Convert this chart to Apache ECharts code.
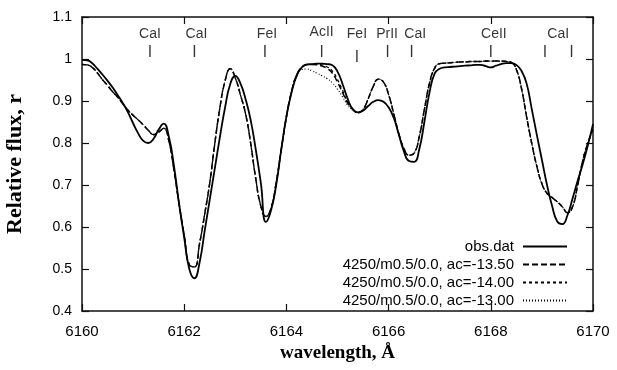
<!DOCTYPE html>
<html><head><meta charset="utf-8">
<script src="https://cdn.jsdelivr.net/npm/echarts@6.0.0/dist/echarts.min.js"></script>
<style>html,body{margin:0;padding:0;background:#fff}#c{width:617px;height:370px}</style>
</head><body><div id="c"></div>
<script>
// wavelength grid (Å)
const wavelength = [
6160.0,6160.1,6160.2,6160.3,6160.4,6160.5,6160.6,6160.7,6160.8,6160.9,
6161.0,6161.1,6161.2,6161.3,6161.4,6161.5,6161.6,6161.7,6161.8,6161.9,
6162.0,6162.1,6162.2,6162.3,6162.4,6162.5,6162.6,6162.7,6162.8,6162.9,
6163.0,6163.1,6163.2,6163.3,6163.4,6163.5,6163.6,6163.7,6163.8,6163.9,
6164.0,6164.1,6164.2,6164.3,6164.4,6164.5,6164.6,6164.7,6164.8,6164.9,
6165.0,6165.1,6165.2,6165.3,6165.4,6165.5,6165.6,6165.7,6165.8,6165.9,
6166.0,6166.1,6166.2,6166.3,6166.4,6166.5,6166.6,6166.7,6166.8,6166.9,
6167.0,6167.1,6167.2,6167.3,6167.4,6167.5,6167.6,6167.7,6167.8,6167.9,
6168.0,6168.1,6168.2,6168.3,6168.4,6168.5,6168.6,6168.7,6168.8,6168.9,
6169.0,6169.1,6169.2,6169.3,6169.4,6169.5,6169.6,6169.7,6169.8,6169.9,
6170.0];

// observed spectrum (obs.dat)
const obsFlux = [
0.998,0.997,0.990,0.977,0.963,0.948,0.932,0.914,0.895,0.873,
0.847,0.823,0.805,0.800,0.810,0.832,0.846,0.815,0.745,0.655,
0.575,0.500,0.478,0.515,0.590,0.665,0.740,0.815,0.885,0.940,
0.960,0.942,0.905,0.855,0.785,0.705,0.612,0.640,0.700,0.785,
0.863,0.920,0.960,0.980,0.987,0.988,0.989,0.989,0.988,0.985,
0.970,0.940,0.905,0.880,0.873,0.877,0.888,0.898,0.902,0.898,
0.885,0.860,0.820,0.780,0.757,0.755,0.785,0.850,0.920,0.965,
0.977,0.980,0.981,0.982,0.983,0.984,0.985,0.986,0.986,0.983,
0.980,0.984,0.988,0.990,0.990,0.986,0.972,0.942,0.882,0.820,
0.760,0.700,0.650,0.613,0.607,0.628,0.668,0.710,0.750,0.795,
0.845];

// synthetic spectrum 4250/m0.5/0.0, ac=-13.50
const modelAc135 = [
0.987,0.986,0.980,0.967,0.951,0.937,0.922,0.909,0.893,0.878,
0.866,0.855,0.843,0.830,0.820,0.826,0.835,0.805,0.735,0.655,
0.580,0.510,0.505,0.560,0.630,0.705,0.800,0.885,0.948,0.977,
0.955,0.915,0.870,0.800,0.715,0.650,0.625,0.645,0.705,0.785,
0.862,0.922,0.962,0.980,0.986,0.987,0.986,0.983,0.977,0.966,
0.945,0.920,0.895,0.880,0.872,0.880,0.905,0.935,0.952,0.945,
0.915,0.870,0.822,0.787,0.771,0.776,0.815,0.880,0.942,0.978,
0.989,0.990,0.991,0.992,0.993,0.993,0.994,0.994,0.994,0.995,
0.995,0.995,0.995,0.994,0.992,0.975,0.930,0.863,0.800,0.745,
0.703,0.680,0.670,0.660,0.648,0.634,0.648,0.700,0.758,0.800,
0.832];

// synthetic spectrum 4250/m0.5/0.0, ac=-14.00
const modelAc140 = [
0.987,0.986,0.980,0.967,0.951,0.937,0.922,0.909,0.893,0.878,
0.866,0.855,0.843,0.830,0.820,0.826,0.835,0.805,0.735,0.655,
0.580,0.510,0.505,0.560,0.630,0.705,0.800,0.885,0.948,0.977,
0.955,0.915,0.870,0.800,0.715,0.650,0.625,0.645,0.705,0.785,
0.862,0.922,0.962,0.980,0.986,0.987,0.988,0.986,0.981,0.971,
0.951,0.925,0.898,0.881,0.872,0.880,0.905,0.935,0.952,0.945,
0.915,0.870,0.822,0.787,0.771,0.776,0.815,0.880,0.942,0.978,
0.989,0.990,0.991,0.992,0.993,0.993,0.994,0.994,0.994,0.995,
0.995,0.995,0.995,0.994,0.992,0.975,0.930,0.863,0.800,0.745,
0.703,0.680,0.670,0.660,0.648,0.634,0.648,0.700,0.758,0.800,
0.832];

// synthetic spectrum 4250/m0.5/0.0, ac=-13.00
const modelAc130 = [
0.987,0.986,0.980,0.967,0.951,0.937,0.922,0.909,0.893,0.878,
0.866,0.855,0.843,0.830,0.820,0.826,0.835,0.805,0.735,0.655,
0.580,0.510,0.505,0.560,0.630,0.705,0.800,0.885,0.948,0.977,
0.955,0.915,0.870,0.800,0.715,0.650,0.625,0.645,0.705,0.785,
0.862,0.922,0.958,0.975,0.976,0.972,0.966,0.960,0.953,0.943,
0.928,0.910,0.890,0.878,0.872,0.880,0.905,0.935,0.952,0.945,
0.915,0.870,0.822,0.787,0.771,0.776,0.815,0.880,0.942,0.978,
0.989,0.990,0.991,0.992,0.993,0.993,0.994,0.994,0.994,0.995,
0.995,0.995,0.995,0.994,0.992,0.975,0.930,0.863,0.800,0.745,
0.703,0.680,0.670,0.660,0.648,0.634,0.648,0.700,0.758,0.800,
0.832];

const seriesNames = ['obs.dat','4250/m0.5/0.0, ac=-13.50','4250/m0.5/0.0, ac=-14.00','4250/m0.5/0.0, ac=-13.00'];

// line identifications
const lineMarkWl = [6161.33, 6162.20, 6163.58, 6164.69, 6165.38, 6165.98, 6166.45, 6168.00, 6169.06, 6169.58];
const lineLabelWl = [6161.33, 6162.24, 6163.62, 6164.69, 6165.38, 6165.97, 6166.52, 6168.06, 6169.32];
const lineLabelText = ['CaI','CaI','FeI','AcII','FeI','PrII','CaI','CeII','CaI'];

const xTicks = [6160, 6162, 6164, 6166, 6168, 6170];
const yTicks = [0.4, 0.5, 0.6, 0.7, 0.8, 0.9, 1.0, 1.1];

const chart = echarts.init(document.getElementById('c'), null, {renderer: 'canvas'});
const SANS = 'Liberation Sans';
const SERIF = 'Liberation Serif';
const pair = arr => wavelength.map((w, i) => [w, arr[i]]);

const markY = w => (Math.abs(w - 6165.38) < 0.01 ? 1.007 : 1.019);
const labelY = t => (t === 'AcII' ? 1.064 : 1.0595);

const axisLine = {show: true, onZero: false, lineStyle: {color: '#111', width: 1.5}};
const tick = {show: true, inside: true, length: 7, lineStyle: {color: '#111', width: 1.2}};

const option = {
  backgroundColor: '#fff',
  animation: false,
  grid: {left: 82, right: 24, top: 17, bottom: 59, show: false, containLabel: false, outerBoundsMode: 'none'},
  xAxis: [{
    type: 'value', min: xTicks[0], max: xTicks[xTicks.length - 1], interval: 2,
    axisLine, axisTick: tick, splitLine: {show: false},
    axisLabel: {margin: 13, fontFamily: SANS, fontSize: 15, color: '#000', formatter: v => String(v)},
    name: 'wavelength, Å', nameLocation: 'middle', nameGap: 33,
    nameTextStyle: {fontFamily: SERIF, fontWeight: 'bold', fontSize: 19, color: '#000'}
  }, {
    type: 'value', position: 'top', min: xTicks[0], max: xTicks[xTicks.length - 1], interval: 2,
    axisLine, axisTick: tick, axisLabel: {show: false}, splitLine: {show: false}
  }],
  yAxis: [{
    type: 'value', min: yTicks[0], max: yTicks[yTicks.length - 1], interval: 0.1,
    axisLine, axisTick: tick, splitLine: {show: false},
    axisLabel: {margin: 10, fontFamily: SANS, fontSize: 14, color: '#000', formatter: v => String(+v.toFixed(1))},
    name: 'Relative flux, r', nameLocation: 'middle', nameGap: 56,
    nameTextStyle: {fontFamily: SERIF, fontWeight: 'bold', fontSize: 22, color: '#000'}
  }, {
    type: 'value', position: 'right', min: yTicks[0], max: yTicks[yTicks.length - 1], interval: 0.1,
    axisLine, axisTick: tick, axisLabel: {show: false}, splitLine: {show: false}
  }],
  legend: {
    orient: 'vertical', right: 44, top: 234, align: 'right',
    itemWidth: 44, itemHeight: 14, itemGap: 3,
    itemStyle: {opacity: 0},
    textStyle: {fontFamily: SANS, fontSize: 15, color: '#000', padding: [0, 4, 0, 0]},
    data: seriesNames
  },
  series: [
    {name: seriesNames[0], type: 'line', data: pair(obsFlux), symbol: 'none', smooth: 0.5, z: 5,
     lineStyle: {color: '#000', width: 1.8, type: 'solid'}, itemStyle: {color: '#000'}},
    {name: seriesNames[1], type: 'line', data: pair(modelAc135), symbol: 'none', smooth: 0.5, z: 4,
     lineStyle: {color: '#000', width: 1.5, type: [6, 3]}, itemStyle: {color: '#000'}},
    {name: seriesNames[2], type: 'line', data: pair(modelAc140), symbol: 'none', smooth: 0.5, z: 4,
     lineStyle: {color: '#000', width: 1.3, type: [3, 3]}, itemStyle: {color: '#000'}},
    {name: seriesNames[3], type: 'line', data: pair(modelAc130), symbol: 'none', smooth: 0.5, z: 4,
     lineStyle: {color: '#000', width: 1.2, type: [1, 2]}, itemStyle: {color: '#000'}},
    {name: 'lineMarks', type: 'scatter', silent: true, symbol: 'rect', symbolSize: [1.4, 12],
     itemStyle: {color: '#000'}, data: lineMarkWl.map(w => [w, markY(w)])},
    {name: 'lineLabels', type: 'scatter', silent: true, symbolSize: 1,
     itemStyle: {color: 'rgba(0,0,0,0)'},
     label: {show: true, position: 'inside', formatter: p => p.data[2], fontFamily: SANS, fontSize: 14, color: '#000'},
     data: lineLabelWl.map((w, i) => [w, labelY(lineLabelText[i]), lineLabelText[i]])}
  ]
};
chart.setOption(option);
</script>
</body></html>
